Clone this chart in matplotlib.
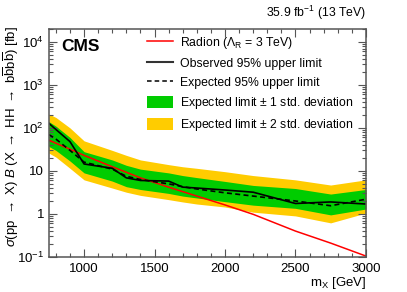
import numpy as np
import matplotlib
matplotlib.use("Agg")
import matplotlib.pyplot as plt
from matplotlib.patches import Patch
from matplotlib.lines import Line2D
from matplotlib.ticker import FixedLocator, FixedFormatter, MultipleLocator

plt.rcParams["font.family"] = ["Liberation Sans", "DejaVu Sans"]
plt.rcParams["mathtext.fontset"] = "custom"
plt.rcParams["mathtext.rm"] = "Liberation Sans"
plt.rcParams["mathtext.it"] = "Liberation Sans:italic"
plt.rcParams["mathtext.bf"] = "Liberation Sans:bold"

# resonance masses [GeV]
masses = [750, 800, 900, 1000, 1200, 1300, 1400, 1600, 1700, 1800, 2000, 2200, 2500, 2750, 3000]

# limits [fb]
observed = [128, 92, 48, 14.5, 11.5, 6.9, 6.0, 5.8, 4.2, 4.0, 3.6, 3.2, 1.75, 1.9, 1.7]
expected = [70, 55, 30, 16, 11, 7.5, 6.3, 5.0, 4.3, 3.8, 3.1, 2.6, 2.0, 1.55, 2.2]
plus2 = [210, 175, 100, 50, 30, 23, 18, 14, 12.5, 11.5, 9.6, 7.8, 6.2, 4.7, 6.2]
plus1 = [140, 110, 60, 28, 18, 13.5, 11, 9, 7.8, 7, 5.7, 4.6, 3.9, 2.9, 3.7]
minus1 = [37, 30, 17, 9, 5.8, 4.3, 3.7, 3.0, 2.6, 2.35, 1.93, 1.6, 1.35, 0.95, 1.3]
minus2 = [26, 21, 11.5, 6.2, 4.0, 3.2, 2.7, 2.15, 1.9, 1.7, 1.45, 1.1, 0.9, 0.62, 1.05]

# radion theory curve
radion = [52, 44, 32, 23, 12.5, 9.3, 6.9, 4.2, 3.3, 2.6, 1.62, 0.98, 0.40, 0.21, 0.105]

y_ticks = [0.1, 1, 10, 100, 1000, 10000]
y_labels = [r"10$^{-1}$", "1", "10", r"10$^{2}$", r"10$^{3}$", r"10$^{4}$"]

green = "#00cc00"
yellow = "#ffcc00"
frame = "#555555"

fig = plt.figure(figsize=(4.07, 2.92), dpi=100)
ax = fig.add_axes([0.120, 0.120, 0.779, 0.781])

ax.fill_between(masses, minus2, plus2, color=yellow, lw=0)
ax.fill_between(masses, minus1, plus1, color=green, lw=0)
ax.plot(masses, radion, color="red", lw=1.1)
ax.plot(masses, expected, color="black", lw=1.2, ls=(0, (3, 2)))
ax.plot(masses, observed, color="black", lw=1.2)

ax.set_yscale("log")
ax.set_xlim(750, 3000)
ax.set_ylim(0.1, 2e4)

ax.xaxis.set_major_locator(MultipleLocator(500))
ax.xaxis.set_minor_locator(MultipleLocator(100))
ax.yaxis.set_major_locator(FixedLocator(y_ticks))
ax.yaxis.set_major_formatter(FixedFormatter(y_labels))
ax.yaxis.set_minor_locator(FixedLocator(
    [m * 10.0 ** e for e in range(-1, 5) for m in range(2, 10)]))

ax.tick_params(which="both", direction="in", top=True, right=True,
               color=frame, labelsize=9.5)
ax.tick_params(which="major", length=6, width=0.8)
ax.tick_params(which="minor", length=3, width=0.8)
ax.tick_params(axis="x", which="major", pad=4)
for s in ax.spines.values():
    s.set_color(frame)
    s.set_linewidth(1.1)

ax.set_xlabel(r"m$_\mathrm{X}$ [GeV]", fontsize=9.5, loc="right", labelpad=0)
fig.text(0.027, 0.91,
         r"$\sigma$(pp $\rightarrow$ X) $\mathit{B}$ (X $\rightarrow$ HH $\rightarrow$ b$\overline{\mathrm{b}}$b$\overline{\mathrm{b}}$) [fb]",
         fontsize=9.5, rotation=90, ha="center", va="top")

ax.text(0.04, 0.955, "CMS", transform=ax.transAxes, fontsize=12.5,
        fontweight="bold", va="top", ha="left")
fig.text(0.899, 0.925, r"35.9 fb$^{-1}$ (13 TeV)", fontsize=8.8,
         ha="right", va="bottom")

handles = [
    Line2D([], [], color="red", lw=1.1),
    Line2D([], [], color="#333333", lw=1.5),
    Line2D([], [], color="black", lw=1.1, ls=(0, (3, 2))),
    Patch(facecolor=green, edgecolor="none"),
    Patch(facecolor=yellow, edgecolor="none"),
]
labels = [
    r"Radion ($\Lambda_\mathrm{R}$ = 3 TeV)",
    "Observed 95% upper limit",
    "Expected 95% upper limit",
    r"Expected limit $\pm$ 1 std. deviation",
    r"Expected limit $\pm$ 2 std. deviation",
]
ax.legend(handles, labels, loc="upper left", bbox_to_anchor=(0.31, 0.975),
          frameon=False, fontsize=8.8, handlelength=2.1, handleheight=1.1,
          handletextpad=0.6, labelspacing=0.5, borderpad=0, borderaxespad=0)

fig.savefig("out.png", dpi=100)
